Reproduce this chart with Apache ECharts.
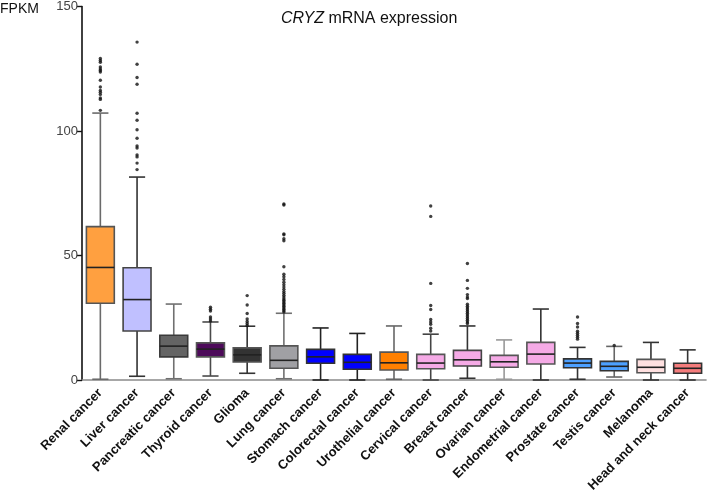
<!DOCTYPE html>
<html>
<head>
<meta charset="utf-8">
<script src="https://cdn.jsdelivr.net/npm/echarts@6/dist/echarts.min.js"></script>
<style>html,body{margin:0;padding:0;background:#fff;}#c{width:708px;height:497px;}</style>
</head>
<body>
<div id="c"></div>
<script>
var categories = ['Renal cancer','Liver cancer','Pancreatic cancer','Thyroid cancer','Glioma','Lung cancer','Stomach cancer','Colorectal cancer','Urothelial cancer','Cervical cancer','Breast cancer','Ovarian cancer','Endometrial cancer','Prostate cancer','Testis cancer','Melanoma','Head and neck cancer'];
var whiskerLow  = [0.3, 1.5, 0.5, 1.6, 2.7, 0.5, 0, 0, 0.3, 0, 0.7, 0.3, 0, 0.3, 1.2, 0, 0];
var q1          = [30.8, 19.7, 9.3, 9.3, 7.2, 4.7, 6.7, 4.3, 4.0, 4.5, 5.6, 5.1, 6.4, 4.9, 3.7, 2.9, 2.7];
var median      = [45.2, 32.3, 13.6, 12.4, 10.1, 7.9, 9.3, 7.1, 6.9, 6.8, 8.1, 7.3, 10.4, 6.8, 5.5, 5.1, 4.7];
var q3          = [61.6, 45.1, 18.0, 14.9, 12.9, 13.7, 12.3, 10.3, 11.2, 10.3, 11.9, 9.9, 15.1, 8.5, 7.5, 8.3, 6.7];
var whiskerHigh = [107.2, 81.5, 30.5, 23.3, 21.6, 26.8, 20.9, 18.7, 21.7, 18.4, 21.7, 16.1, 28.5, 13.1, 13.5, 15.1, 12.1];
var outliers = [
  [129.1,128.3,127.6,125.7,124.9,124.3,123.7,120.4,117.7,116.3,115.6,114.7,113.3,112.7,108.3],
  [135.7,126.8,121.5,118.8,107.1,104.3,100.5,97.1,94.0,93.2,90.4,89.6,87.1,84.5],
  [],
  [29.2,28.4,27.7,25.3,24.5,23.7],
  [33.9,30.1,26.7,24.5,23.5,22.7,21.9],
  [70.7,70.3,58.7,58.3,56.7,55.9,45.5,42.5,41.5,40.4,39.3,38.3,37.3,36.4,35.5,34.8,34.0,33.3,32.6,32.0,31.4,30.8,30.2,29.6,29.0,28.4,27.8,27.3],
  [],
  [],
  [],
  [69.9,65.7,38.8,29.9,28.3,24.3,23.3,22.4,20.8,19.7],
  [46.8,40.0,36.8,34.3,33.3,32.7,30.4,29.6,28.9,28.2,27.5,26.8,26.1,25.4,24.7,24.0,23.3,22.7],
  [],
  [],
  [25.3,22.7,21.3,19.6,18.8,18.0,17.2,16.4],
  [13.9],
  [],
  []
];
var yTicks = [0, 50, 100, 150];

var fills = ['#FFA040','#C0C0FF','#646464','#4D0A5A','#333333','#A0A0A4','#0000FF','#0000FF','#FF8000','#F5AAE6','#F5AAE6','#F5AAE6','#F5AAE6','#4DA0FF','#4DA0FF','#FFE0E0','#F47C7C'];
var whiskerColors = ['#6a6a6a','#333333','#707070','#4a4a4a','#333333','#707070','#222222','#222222','#666666','#444444','#333333','#999999','#333333','#333333','#666666','#333333','#333333'];
var borderColors = ['#555555','#444444','#3a3a3a','#555555','#555555','#555555','#333333','#333333','#555555','#555555','#444444','#555555','#555555','#333333','#333333','#555555','#333333'];

var boxData = categories.map(function (c, i) {
  return [i, whiskerLow[i], q1[i], median[i], q3[i], whiskerHigh[i]];
});
var outlierData = [];
outliers.forEach(function (arr, i) {
  arr.forEach(function (v) { outlierData.push([i, v]); });
});

function renderBox(params, api) {
  var i = api.value(0);
  var pLow = api.coord([i, api.value(1)]);
  var pQ1 = api.coord([i, api.value(2)]);
  var pMed = api.coord([i, api.value(3)]);
  var pQ3 = api.coord([i, api.value(4)]);
  var pHigh = api.coord([i, api.value(5)]);
  var band = api.size([1, 0])[0];
  var bw = band * 0.76, cw = band * 0.44;
  var x = pLow[0];
  var wc = whiskerColors[i], bc = borderColors[i];
  var lineStyle = { stroke: wc, lineWidth: 1.6 };
  return {
    type: 'group',
    children: [
      { type: 'line', shape: { x1: x, y1: pHigh[1], x2: x, y2: pQ3[1] }, style: lineStyle },
      { type: 'line', shape: { x1: x, y1: pQ1[1], x2: x, y2: pLow[1] }, style: lineStyle },
      { type: 'line', shape: { x1: x - cw / 2, y1: pHigh[1], x2: x + cw / 2, y2: pHigh[1] }, style: lineStyle },
      { type: 'line', shape: { x1: x - cw / 2, y1: pLow[1], x2: x + cw / 2, y2: pLow[1] }, style: lineStyle },
      { type: 'rect', shape: { x: x - bw / 2, y: pQ3[1], width: bw, height: pQ1[1] - pQ3[1] }, style: { fill: fills[i], stroke: bc, lineWidth: 1.6 } },
      { type: 'line', shape: { x1: x - bw / 2, y1: pMed[1], x2: x + bw / 2, y2: pMed[1] }, style: { stroke: '#222', lineWidth: 1.6 } }
    ]
  };
}

var chart = echarts.init(document.getElementById('c'), null, { renderer: 'canvas' });
chart.setOption({
  animation: false,
  backgroundColor: '#fff',
  title: {
    text: '{i|CRYZ} mRNA expression',
    left: 276, top: 6,
    textStyle: {
      fontFamily: 'Liberation Sans, Arial, sans-serif', fontSize: 16, fontWeight: 'normal', color: '#111',
      rich: { i: { fontStyle: 'italic', fontFamily: 'Liberation Sans, Arial, sans-serif', fontSize: 16, color: '#111' } }
    }
  },
  graphic: [{
    type: 'text', left: 0, top: 2,
    style: { text: 'FPKM', font: '14px "Liberation Sans", Arial, sans-serif', fill: '#111' }
  }],
  grid: { left: 82, right: 2, top: 5, bottom: 117, containLabel: false },
  xAxis: {
    type: 'category',
    data: categories,
    boundaryGap: true,
    axisLine: { lineStyle: { color: '#8a8a8a', width: 1.6 } },
    axisTick: { alignWithLabel: true, length: 4, lineStyle: { color: '#111', width: 1.4 } },
    axisLabel: {
      rotate: 45, interval: 0, margin: 11,
      fontFamily: 'Liberation Sans, Arial, sans-serif', fontSize: 13, fontWeight: 'bold', color: '#111'
    },
    splitLine: { show: false }
  },
  yAxis: {
    type: 'value',
    min: 0, max: 150, interval: 50,
    axisLine: { show: true, lineStyle: { color: '#111', width: 1.6 } },
    axisTick: { show: true, length: 5, lineStyle: { color: '#111', width: 1.4 } },
    axisLabel: {
      margin: 4, fontFamily: 'Liberation Sans, Arial, sans-serif', fontSize: 13, color: '#444',
      formatter: function (v) { return yTicks.indexOf(v) >= 0 ? String(v) : ''; }
    },
    splitLine: { show: false }
  },
  series: [
    {
      type: 'custom',
      renderItem: renderBox,
      encode: { x: 0, y: [1, 2, 3, 4, 5] },
      data: boxData,
      z: 2
    },
    {
      type: 'scatter',
      data: outlierData,
      symbol: 'circle',
      symbolSize: 3.4,
      itemStyle: { color: '#111' },
      z: 3
    }
  ]
});
</script>
</body>
</html>
